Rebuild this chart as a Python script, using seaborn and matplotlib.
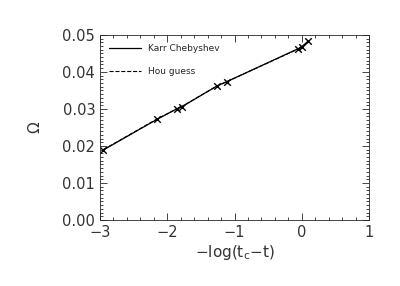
import numpy as np
import pandas as pd
import matplotlib
matplotlib.use("Agg")
import matplotlib.pyplot as plt
from matplotlib.ticker import MultipleLocator, AutoMinorLocator
import seaborn as sns

# Datos
log_t = [-2.95, -2.15, -1.86, -1.78, -1.26, -1.11, -0.05, 0.0, 0.1]
omega_karr = [0.0189, 0.0272, 0.0300, 0.0306, 0.0362, 0.0374, 0.0463, 0.0468, 0.0484]
omega_hou = [0.0190, 0.0273, 0.0300, 0.0307, 0.0362, 0.0374, 0.0462, 0.0467, 0.0481]

df = pd.DataFrame({"x": log_t, "karr": omega_karr, "hou": omega_hou})

sns.set_style("ticks")
plt.rcParams["font.family"] = ["DejaVu Sans"]
plt.rcParams["xtick.direction"] = "in"
plt.rcParams["ytick.direction"] = "in"

fig = plt.figure(figsize=(4.0, 2.86), dpi=100)
ax = fig.add_axes([0.25, 0.231, 0.6725, 0.647])

sns.lineplot(data=df, x="x", y="karr", ax=ax, color="black", lw=0.9,
             label="Karr Chebyshev")
sns.lineplot(data=df, x="x", y="hou", ax=ax, color="black", lw=0.8,
             linestyle="--", label="Hou guess")
# cruces sobre los puntos
sns.scatterplot(data=df, x="x", y="karr", ax=ax, color="black", marker="x",
                s=22, linewidth=1.0, legend=False)

ax.set_xlim(-3, 1)
ax.set_ylim(0.0, 0.05)
ax.xaxis.set_major_locator(MultipleLocator(1))
ax.yaxis.set_major_locator(MultipleLocator(0.01))
ax.xaxis.set_minor_locator(AutoMinorLocator(5))
ax.yaxis.set_minor_locator(AutoMinorLocator(10))
ax.tick_params(which="both", top=True, right=True, labelsize=10.5, width=0.6,
               labelcolor="#333333")
ax.tick_params(which="major", length=5)
ax.tick_params(which="minor", length=2.5)
for s in ax.spines.values():
    s.set_linewidth(0.6)
ax.yaxis.set_major_formatter(plt.FuncFormatter(lambda v, p: f"{v:.2f}"))

ax.set_xlabel(r"$-$log(t$_{\rm c}$$-$t)", fontsize=11, labelpad=2, color="#333333")
ax.set_ylabel("Ω", fontsize=11, labelpad=14, color="#333333")

leg = ax.legend(loc="upper left", frameon=False, fontsize=6.5,
                handlelength=3.5, labelspacing=1.6, borderaxespad=0.6)

fig.savefig("out.png", dpi=100)
